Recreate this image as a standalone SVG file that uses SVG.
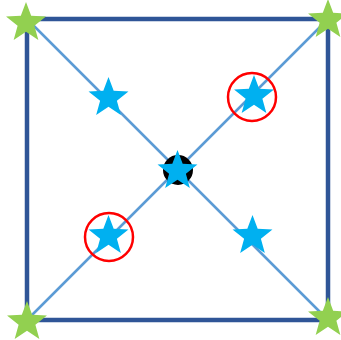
<svg xmlns="http://www.w3.org/2000/svg" width="341" height="340" viewBox="0 0 341 340">
  <style>
    .frame { fill: none; stroke: #2F5597; stroke-width: 4.5; }
    .diag { stroke: #5B9BD5; stroke-width: 2.5; }
    .green { fill: #92D050; }
    .blue { fill: #00B0F0; }
    .ring { fill: none; stroke: #FF0000; stroke-width: 2.5; }
  </style>
  <defs>
    <polygon id="star" points="0,-21 5.18,-7.14 19.97,-6.49 8.39,2.73 12.34,16.99 0,8.82 -12.34,16.99 -8.39,2.73 -19.97,-6.49 -5.18,-7.14"/>
  </defs>
  <rect id="frame" class="frame" x="27" y="19" width="301" height="301"/>
  <g id="connectors">
    <line class="diag" x1="27" y1="19" x2="328" y2="320"/>
    <line class="diag" x1="27" y1="320" x2="328" y2="19"/>
  </g>
  <g id="corner-tl"><use href="#star" class="green" x="26" y="23"/></g>
  <g id="corner-tr"><use href="#star" class="green" x="328" y="20"/></g>
  <g id="corner-bl"><use href="#star" class="green" x="27" y="322"/></g>
  <g id="corner-br"><use href="#star" class="green" x="328" y="318"/></g>
  <g id="center">
    <circle cx="178" cy="170" r="15" fill="#000000"/>
    <use href="#star" class="blue" x="177.5" y="171"/>
  </g>
  <g id="star-ul"><use href="#star" class="blue" x="108.5" y="98"/></g>
  <g id="star-lr"><use href="#star" class="blue" x="252.5" y="236"/></g>
  <g id="star-ur">
    <use href="#star" class="blue" x="254" y="96"/>
    <circle class="ring" cx="252" cy="97" r="24"/>
  </g>
  <g id="star-ll">
    <use href="#star" class="blue" x="108.5" y="236"/>
    <circle class="ring" cx="109" cy="237" r="24"/>
  </g>
</svg>
